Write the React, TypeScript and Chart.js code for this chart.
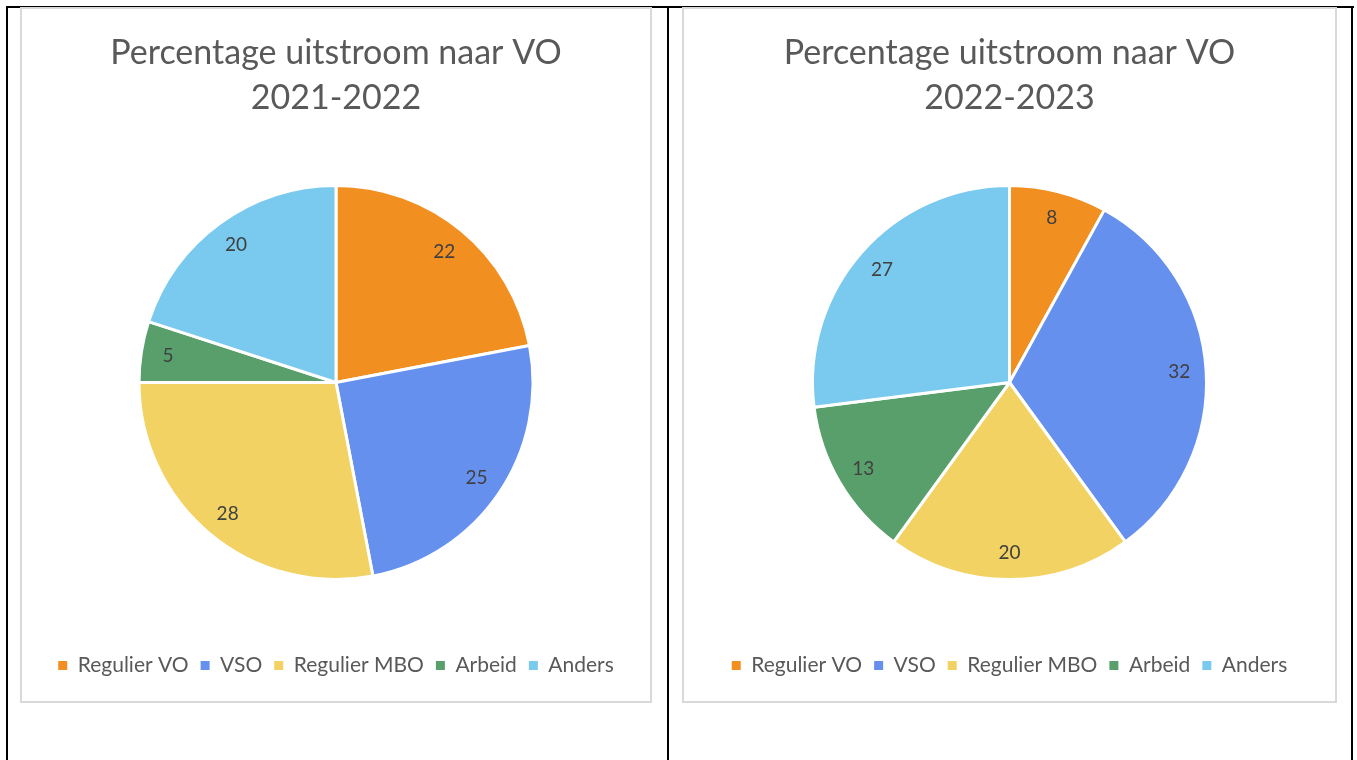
import React, { useEffect, useRef } from "react";
import { Chart, registerables } from "chart.js";

Chart.register(...registerables);

const categories = ["Regulier VO", "VSO", "Regulier MBO", "Arbeid", "Anders"];
const values2122 = [22, 25, 28, 5, 20];
const values2223 = [8, 32, 20, 13, 27];
const titleLine1 = "Percentage uitstroom naar VO";
const period2122 = "2021-2022";
const period2223 = "2022-2023";
const sliceColors = ["#F18F21", "#6590EE", "#F2D262", "#599F6B", "#7AC9EE"];

const FONT = "Lato, 'Liberation Sans', sans-serif";

const labelPlugin = {
  id: "sliceLabels",
  afterDatasetsDraw(chart: any) {
    const ctx = chart.ctx;
    const meta = chart.getDatasetMeta(0);
    const data = chart.data.datasets[0].data;
    ctx.save();
    ctx.font = `19px ${FONT}`;
    ctx.fillStyle = "#404040";
    ctx.textAlign = "center";
    ctx.textBaseline = "middle";
    meta.data.forEach((arc: any, i: number) => {
      const p = arc.getProps(["x", "y", "startAngle", "endAngle", "outerRadius"], true);
      const mid = (p.startAngle + p.endAngle) / 2;
      const r = p.outerRadius - 27;
      ctx.fillText(String(data[i]), p.x + Math.cos(mid) * r, p.y + Math.sin(mid) * r);
    });
    ctx.restore();
  },
};

function PieChart({ values, period }: { values: number[]; period: string }) {
  const ref = useRef<HTMLCanvasElement>(null);
  useEffect(() => {
    if (!ref.current) return;
    const chart = new Chart(ref.current, {
      type: "pie",
      data: {
        labels: categories,
        datasets: [
          {
            data: values,
            backgroundColor: sliceColors,
            borderColor: "#FFFFFF",
            borderWidth: 3,
          },
        ],
      },
      options: {
        animation: false,
        responsive: true,
        maintainAspectRatio: false,
        radius: 197,
        layout: { padding: { top: 0, bottom: 17, left: 0, right: 0 } },
        plugins: {
          tooltip: { enabled: false },
          title: {
            display: true,
            text: [titleLine1, period],
            color: "#595959",
            font: { family: FONT, size: 34, weight: "normal", lineHeight: 45 / 34 },
            padding: { top: 24, bottom: 1 },
          },
          legend: {
            position: "bottom",
            labels: {
              usePointStyle: true,
              pointStyle: "rect",
              boxHeight: 9,
              boxWidth: 9,
              padding: 12,
              color: "#595959",
              font: { family: FONT, size: 21 },
              generateLabels: (c: any) => {
                const base = (Chart as any).overrides.pie.plugins.legend.labels.generateLabels(c);
                return base.map((l: any) => ({ ...l, lineWidth: 0, strokeStyle: "rgba(0,0,0,0)" }));
              },
            },
          },
        },
      } as any,
      plugins: [labelPlugin],
    });
    return () => chart.destroy();
  }, [values, period]);
  return <canvas ref={ref} />;
}

export default function App() {
  const black = "#000000";
  return (
    <div style={{ position: "absolute", left: 0, top: 0, width: 1357, height: 760, background: "#fff", overflow: "hidden" }}>
      {/* table borders */}
      <div style={{ position: "absolute", left: 6, top: 6, width: 1348, height: 2, background: black }} />
      <div style={{ position: "absolute", left: 6, top: 6, width: 2, height: 760, background: black }} />
      <div style={{ position: "absolute", left: 667, top: 6, width: 2, height: 760, background: black }} />
      <div style={{ position: "absolute", left: 1351, top: 6, width: 2, height: 760, background: black }} />
      {/* chart boxes */}
      <div style={{ position: "absolute", left: 20, top: 7, width: 632, height: 696, boxSizing: "border-box", border: "2px solid #D9D9D9" }} />
      <div style={{ position: "absolute", left: 682, top: 7, width: 655, height: 696, boxSizing: "border-box", border: "2px solid #D9D9D9" }} />
      <div style={{ position: "absolute", left: 20, top: 7, width: 632, height: 696 }}>
        <PieChart values={values2122} period={period2122} />
      </div>
      <div style={{ position: "absolute", left: 682, top: 7, width: 655, height: 696 }}>
        <PieChart values={values2223} period={period2223} />
      </div>
    </div>
  );
}
